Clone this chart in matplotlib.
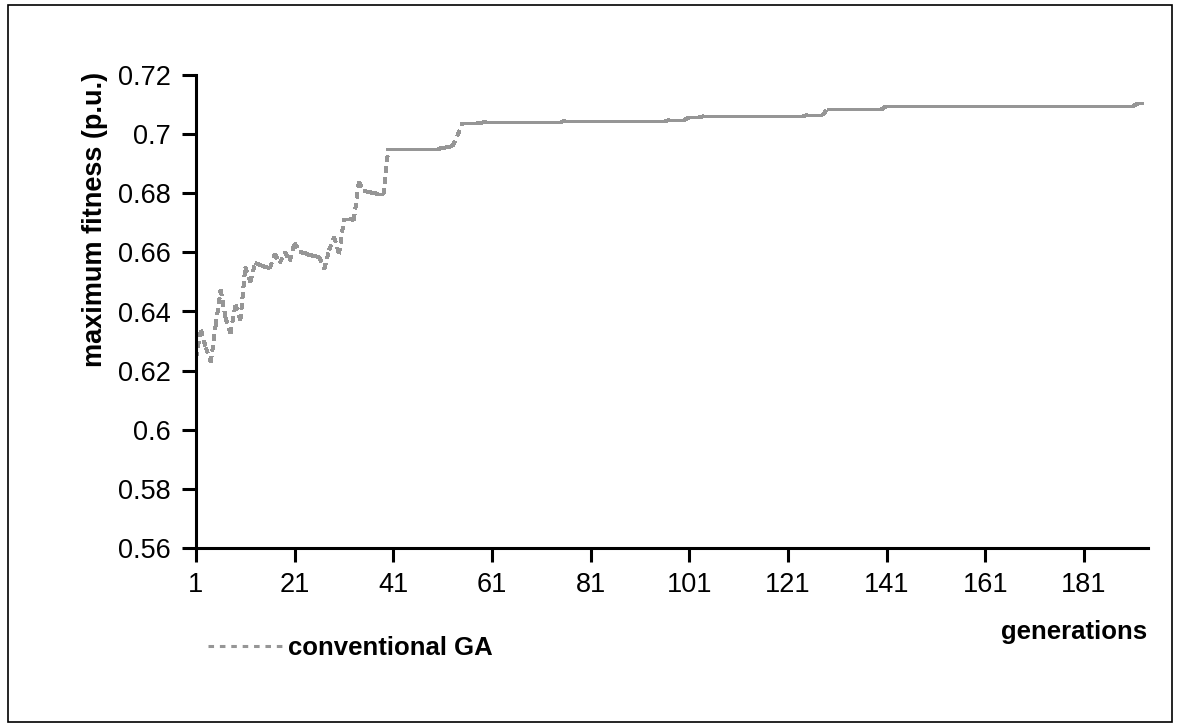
import numpy as np
import matplotlib
matplotlib.use("Agg")
import matplotlib.pyplot as plt
from matplotlib.collections import LineCollection
from matplotlib.lines import Line2D
from matplotlib.patches import Rectangle

plt.rcParams['font.family'] = ['Liberation Sans', 'DejaVu Sans']

# maximum fitness per generation
generations = np.arange(1, 194)
fitness = [
    0.6243, 0.6337, 0.6277, 0.6229, 0.6354, 0.6473, 0.6378, 0.6327, 0.6422, 0.6371,
    0.6551, 0.6500, 0.6564, 0.6557, 0.6551, 0.6547, 0.6595, 0.6564, 0.6601, 0.6571,
    0.6632, 0.6601, 0.6598, 0.6591, 0.6588, 0.6584, 0.6544, 0.6608, 0.6652, 0.6595,
    0.6713, 0.6713, 0.6710, 0.6838, 0.6808, 0.6804, 0.6801, 0.6797, 0.6797, 0.6950,
    0.6950, 0.6950, 0.6950, 0.6950, 0.6950, 0.6950, 0.6950, 0.6950, 0.6950, 0.6950,
    0.6953, 0.6956, 0.6960, 0.6995, 0.7037, 0.7037, 0.7037, 0.7037, 0.7039, 0.7042,
    0.7042, 0.7042, 0.7042, 0.7042, 0.7042, 0.7042, 0.7042, 0.7042, 0.7042, 0.7042,
    0.7042, 0.7042, 0.7042, 0.7042, 0.7042, 0.7044, 0.7044, 0.7044, 0.7044, 0.7044,
    0.7044, 0.7044, 0.7044, 0.7044, 0.7044, 0.7044, 0.7044, 0.7044, 0.7044, 0.7044,
    0.7044, 0.7044, 0.7044, 0.7044, 0.7044, 0.7044, 0.7048, 0.7048, 0.7048, 0.7048,
    0.7057, 0.7057, 0.7057, 0.7061, 0.7061, 0.7061, 0.7061, 0.7061, 0.7061, 0.7061,
    0.7061, 0.7061, 0.7061, 0.7061, 0.7061, 0.7061, 0.7061, 0.7061, 0.7061, 0.7061,
    0.7061, 0.7061, 0.7061, 0.7061, 0.7065, 0.7065, 0.7065, 0.7065, 0.7084, 0.7084,
    0.7084, 0.7084, 0.7084, 0.7084, 0.7084, 0.7084, 0.7084, 0.7084, 0.7084, 0.7084,
    0.7095, 0.7095, 0.7095, 0.7095, 0.7095, 0.7095, 0.7095, 0.7095, 0.7095, 0.7095,
    0.7095, 0.7095, 0.7095, 0.7095, 0.7095, 0.7095, 0.7095, 0.7095, 0.7095, 0.7095,
    0.7095, 0.7095, 0.7095, 0.7095, 0.7095, 0.7095, 0.7095, 0.7095, 0.7095, 0.7095,
    0.7095, 0.7095, 0.7095, 0.7095, 0.7095, 0.7095, 0.7095, 0.7095, 0.7095, 0.7095,
    0.7095, 0.7095, 0.7095, 0.7095, 0.7095, 0.7095, 0.7095, 0.7095, 0.7095, 0.7095,
    0.7095, 0.7104, 0.7104,
]

x_ticks = [1, 21, 41, 61, 81, 101, 121, 141, 161, 181]
y_ticks = [0.56, 0.58, 0.60, 0.62, 0.64, 0.66, 0.68, 0.70, 0.72]
y_tick_labels = ['0.56', '0.58', '0.6', '0.62', '0.64', '0.66', '0.68', '0.7', '0.72']

W, H = 1180, 727
fig = plt.figure(figsize=(W / 100, H / 100), dpi=100)
ax = fig.add_axes([196 / W, 1 - 548 / H, 952 / W, 473 / H])

gray = '#969696'
lw = 2.2
dash = (0, (4.0 / lw, 4.2 / lw))

# excel-like dashes: pattern restarts on every segment
pts = np.column_stack([generations, fitness])
segs = np.stack([pts[:-1], pts[1:]], axis=1)
lc = LineCollection(segs, colors=gray, linewidths=lw, linestyles=[dash],
                    capstyle='butt', antialiaseds=False)
ax.add_collection(lc)

ax.set_xlim(1, 194)
ax.set_ylim(0.56, 0.72)
ax.set_xticks(x_ticks)
ax.set_yticks(y_ticks)
ax.set_yticklabels(y_tick_labels)

for s in ['top', 'right']:
    ax.spines[s].set_visible(False)
for s in ['left', 'bottom']:
    ax.spines[s].set_linewidth(2.2)
ax.tick_params(direction='out', length=10, width=2.2, labelsize=19.5)
ax.tick_params(axis='y', pad=8)
ax.tick_params(axis='x', pad=7)

fig.text(95 / W, 1 - 72 / H, 'maximum fitness (p.u.)', rotation=90, ha='center', va='top',
         fontsize=19.5, fontweight='bold')
fig.text(1147 / W, 1 - 632 / H, 'generations', ha='right', va='center',
         fontsize=18.5, fontweight='bold')

proxy = Line2D([], [], color=gray, lw=lw, linestyle=dash, dash_capstyle='butt')
ax.legend(handles=[proxy], labels=['conventional GA'], loc='center left',
          bbox_to_anchor=(208 / W, 1 - 648 / H), bbox_transform=fig.transFigure,
          frameon=False, handlelength=2.9, handletextpad=0.2, borderpad=0, borderaxespad=0,
          prop={'weight': 'bold', 'size': 18.5})

fig.add_artist(Rectangle((8 / W, 5 / H), 1164 / W, 717 / H, transform=fig.transFigure,
                         fill=False, lw=1.2, ec='black'))

fig.savefig('out.png', dpi=100)
